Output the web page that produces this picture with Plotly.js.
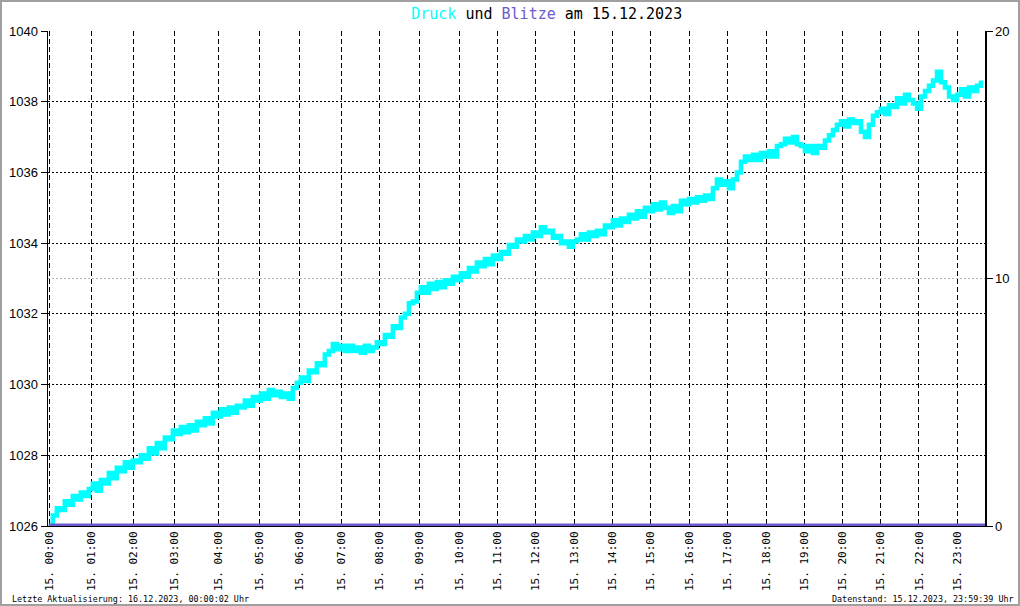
<!DOCTYPE html>
<html>
<head>
<meta charset="utf-8">
<script src="https://cdn.plot.ly/plotly-3.0.1.min.js"></script>
<style>
  html, body { margin: 0; padding: 0; background: #fff; }
  #wrap { position: relative; width: 1020px; height: 606px; }
  #chart { width: 1020px; height: 606px; }
  #frame { position: absolute; left: 0; top: 0; width: 1020px; height: 606px; box-sizing: border-box; border: 2px solid #a0a0a0; pointer-events: none; }
</style>
</head>
<body>
<div id="wrap"><div id="chart"></div><div id="frame"></div></div>
<script>
// Pressure samples (hPa), in order of recording
const druck = [
  1026.0, 1026.3, 1026.5, 1026.45, 1026.7, 1026.6, 1026.85, 1026.75, 1026.95, 1026.85, 1027.05,
  1027.2, 1027.0, 1027.3, 1027.2, 1027.5, 1027.35, 1027.65, 1027.55, 1027.8, 1027.65, 1027.85,
  1027.8, 1028.0, 1027.9, 1028.2, 1028.05, 1028.35, 1028.2, 1028.5, 1028.45, 1028.7,
  1028.6, 1028.8, 1028.65, 1028.85, 1028.7, 1028.95, 1028.85, 1029.05, 1028.9, 1029.2, 1029.1,
  1029.3, 1029.15, 1029.35, 1029.2, 1029.4, 1029.35, 1029.55, 1029.4, 1029.65, 1029.55,
  1029.75, 1029.6, 1029.85, 1029.7, 1029.8, 1029.65, 1029.75, 1029.6, 1029.9, 1030.05,
  1030.2, 1030.1, 1030.4, 1030.35, 1030.6, 1030.55, 1030.85, 1030.95, 1031.15, 1031.0, 1031.1,
  1030.95, 1031.1, 1030.95, 1031.05, 1030.9, 1031.1, 1030.95, 1031.05, 1031.2,
  1031.15, 1031.4, 1031.35, 1031.65, 1031.6, 1031.9, 1032.0, 1032.3, 1032.35, 1032.6,
  1032.75, 1032.6, 1032.85, 1032.7, 1032.9, 1032.75, 1032.95, 1032.85, 1033.05, 1032.95,
  1033.15, 1033.05, 1033.3, 1033.2, 1033.45, 1033.35, 1033.55, 1033.4, 1033.65, 1033.55,
  1033.75, 1033.7, 1033.95, 1033.9, 1034.1, 1034.05, 1034.2, 1034.1, 1034.3,
  1034.2, 1034.45, 1034.3, 1034.35, 1034.15, 1034.2, 1034.0, 1034.05, 1033.9, 1034.05,
  1034.1, 1034.25, 1034.1, 1034.3, 1034.2, 1034.35, 1034.25, 1034.5, 1034.45,
  1034.65, 1034.5, 1034.7, 1034.6, 1034.8, 1034.7, 1034.9, 1034.75, 1035.0, 1034.9,
  1035.1, 1034.95, 1035.15, 1035.0, 1034.85, 1035.05, 1034.9, 1035.2, 1035.1, 1035.25,
  1035.15, 1035.3, 1035.2, 1035.35, 1035.25, 1035.55, 1035.8, 1035.65, 1035.75,
  1035.55, 1035.8, 1036.0, 1036.3, 1036.45, 1036.35, 1036.5, 1036.35, 1036.55, 1036.45,
  1036.6, 1036.45, 1036.75, 1036.8, 1036.95, 1036.85, 1037.0, 1036.8, 1036.75,
  1036.6, 1036.75, 1036.55, 1036.75, 1036.7, 1036.9, 1037.05, 1037.2, 1037.35, 1037.45,
  1037.3, 1037.5, 1037.4, 1037.45, 1037.15, 1037.0, 1037.35, 1037.6, 1037.7,
  1037.8, 1037.65, 1037.9, 1037.85, 1038.1, 1037.95, 1038.2, 1038.05, 1037.95, 1037.8,
  1038.15, 1038.3, 1038.45, 1038.6, 1038.85, 1038.55, 1038.4, 1038.15, 1038.05, 1038.2,
  1038.35, 1038.15, 1038.4, 1038.3, 1038.45, 1038.6
];

// Lightning counts (none recorded this day), one per hour
const blitze = [0,0,0,0,0,0,0,0,0,0,0,0,0,0,0,0,0,0,0,0,0,0,0,0];

// Sample index at which each hour begins
const hourIdx = [0.25, 10.7, 21.1, 31.5, 42.3, 52.6, 62.75, 73.2, 82.75, 92.75, 102.6, 112.2,
                 121.75, 131.3, 140.9, 150.5, 160.1, 169.7, 179.4, 188.8, 198.3, 207.9, 217.5, 227.2];
const hourLabels = ["15. 00:00","15. 01:00","15. 02:00","15. 03:00","15. 04:00","15. 05:00",
                    "15. 06:00","15. 07:00","15. 08:00","15. 09:00","15. 10:00","15. 11:00",
                    "15. 12:00","15. 13:00","15. 14:00","15. 15:00","15. 16:00","15. 17:00",
                    "15. 18:00","15. 19:00","15. 20:00","15. 21:00","15. 22:00","15. 23:00"];
const leftTicks = [1026, 1028, 1030, 1032, 1034, 1036, 1038, 1040];
const rightTicks = [0, 10, 20];

const sampleIdx = druck.map((_, i) => i);
const blitzIdx = hourIdx.slice();
blitzIdx[0] = 0;

const traces = [
  {
    x: blitzIdx.concat([druck.length]), y: blitze.concat([0]), yaxis: 'y2',
    type: 'scatter', mode: 'lines', line: {color: '#6a5acd', width: 5},
    hoverinfo: 'skip', showlegend: false
  },
  {
    x: sampleIdx, y: druck, type: 'scatter', mode: 'lines',
    line: {color: '#00ffff', width: 4.5, shape: 'hv'},
    showlegend: false
  }
];

const mono = 'DejaVu Sans Mono, monospace';
const sans = 'Liberation Sans, Arial, sans-serif';

const layout = {
  width: 1020, height: 606,
  margin: {l: 48, r: 35, t: 31, b: 80, pad: 0},
  paper_bgcolor: '#ffffff', plot_bgcolor: '#ffffff',
  showlegend: false,
  title: {
    text: '<span style="color:#00ffff">Druck</span> und <span style="color:#6a5acd">Blitze</span> am 15.12.2023',
    font: {family: mono, size: 15, color: '#000000'},
    x: 0.536, xanchor: 'center', xref: 'container',
    y: 0.978, yanchor: 'middle', yref: 'container'
  },
  xaxis: {
    range: [-0.2, 234],
    tickmode: 'array', tickvals: hourIdx, ticktext: hourLabels,
    tickangle: -90, ticks: '',
    tickfont: {family: mono, size: 11, color: '#000000'},
    showgrid: true, gridcolor: '#000000', gridwidth: 1, griddash: '5px,3px',
    showline: true, linecolor: '#000000', linewidth: 1,
    zeroline: false, fixedrange: true
  },
  yaxis: {
    range: [1026, 1040],
    tickmode: 'array', tickvals: leftTicks,
    ticks: 'outside', ticklen: 6, tickcolor: '#000000', tickwidth: 1,
    tickfont: {family: sans, size: 13, color: '#000000'},
    showgrid: true, gridcolor: '#000000', gridwidth: 1, griddash: '2px,2px',
    showline: true, linecolor: '#000000', linewidth: 1.5,
    zeroline: false, fixedrange: true
  },
  yaxis2: {
    overlaying: 'y', side: 'right',
    range: [0, 20],
    tickmode: 'array', tickvals: rightTicks,
    ticks: 'outside', ticklen: 6, tickcolor: '#000000', tickwidth: 1,
    tickfont: {family: sans, size: 13, color: '#000000'},
    showgrid: false,
    showline: true, linecolor: '#000000', linewidth: 1.5,
    zeroline: false, fixedrange: true
  },
  shapes: [
    {type: 'line', xref: 'paper', x0: 0, x1: 1, yref: 'y2', y0: 10, y1: 10,
     line: {color: '#b4b4b4', width: 1, dash: '2px,2px'}, layer: 'below'}
  ],
  annotations: [
    {text: 'Letzte Aktualisierung: 16.12.2023, 00:00:02 Uhr', xref: 'paper', yref: 'paper',
     x: -0.0406, y: -0.148, xanchor: 'left', yanchor: 'middle', showarrow: false,
     font: {family: mono, size: 8.4, color: '#000000'}},
    {text: 'Datenstand: 15.12.2023, 23:59:39 Uhr', xref: 'paper', yref: 'paper',
     x: 1.033, y: -0.148, xanchor: 'right', yanchor: 'middle', showarrow: false,
     font: {family: mono, size: 8.4, color: '#000000'}}
  ]
};

Plotly.newPlot('chart', traces, layout, {displayModeBar: false, staticPlot: true});
</script>
</body>
</html>
